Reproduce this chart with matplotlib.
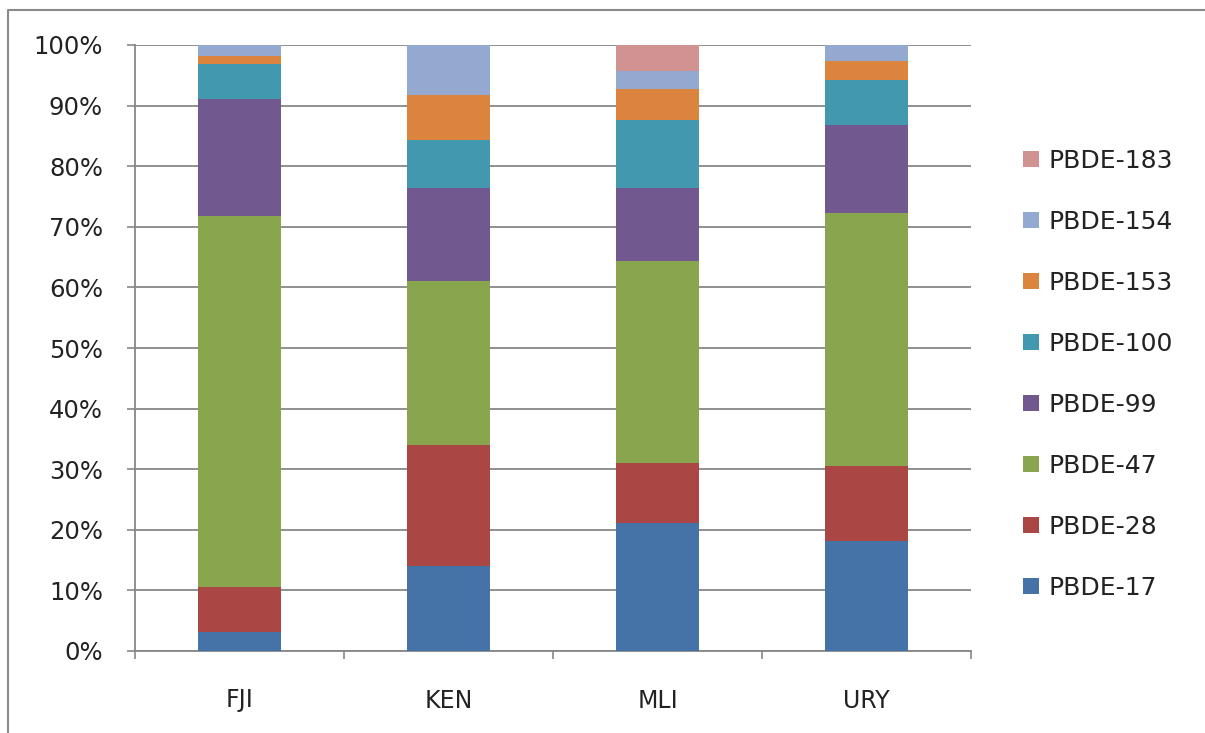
import matplotlib
matplotlib.use("Agg")
import matplotlib.pyplot as plt
from matplotlib.lines import Line2D
from matplotlib.patches import Patch
from matplotlib.ticker import FixedLocator, PercentFormatter
import numpy as np

# Share of each congener in the total (percent), per country
countries = ["FJI", "KEN", "MLI", "URY"]
congeners = ["PBDE-17", "PBDE-28", "PBDE-47", "PBDE-99",
             "PBDE-100", "PBDE-153", "PBDE-154", "PBDE-183"]
pbde_17 = [3.2, 14.1, 21.1, 18.2]
pbde_28 = [7.4, 19.9, 10.0, 12.4]
pbde_47 = [61.2, 27.05, 33.25, 41.6]
pbde_99 = [19.3, 15.3, 12.0, 14.6]
pbde_100 = [5.7, 7.95, 11.35, 7.4]
pbde_153 = [1.4, 7.4, 5.0, 3.2]
pbde_154 = [1.8, 8.3, 3.0, 2.6]
pbde_183 = [0.0, 0.0, 4.3, 0.0]

series = [pbde_17, pbde_28, pbde_47, pbde_99,
          pbde_100, pbde_153, pbde_154, pbde_183]
colors = ["#4572A7", "#AA4643", "#89A54E", "#71588F",
          "#4198AF", "#DB843D", "#93A9CF", "#D19392"]

W, H = 1205, 733
fig = plt.figure(figsize=(W / 100, H / 100), dpi=100)
fig.patch.set_facecolor("white")

ax = fig.add_axes([135 / W, (H - 651) / H, (971 - 135) / W, (651 - 45) / H])

x = np.arange(len(countries))
bottom = np.zeros(len(countries))
for vals, col in zip(series, colors):
    vals = np.array(vals, dtype=float)
    ax.bar(x, vals, width=0.4, bottom=bottom, color=col, linewidth=0, zorder=3)
    bottom += vals

ax.set_xlim(-0.5, len(countries) - 0.5)
ax.set_ylim(0, 100)

grid_col = "#878787"
text_col = "#222222"

# y axis
ax.yaxis.set_major_locator(FixedLocator(np.arange(0, 101, 10)))
ax.yaxis.set_major_formatter(PercentFormatter(decimals=0))
ax.yaxis.grid(True, color=grid_col, linewidth=1.3, zorder=0)
ax.set_axisbelow(True)
ax.tick_params(axis="y", direction="out", length=6, width=1.2, color=grid_col,
               labelsize=17.5, labelcolor=text_col, pad=17)

# x axis: labels at category centres, ticks at category boundaries
ax.set_xticks(x)
ax.set_xticklabels(countries)
ax.set_xticks(np.arange(-0.5, len(countries), 1.0), minor=True)
ax.tick_params(axis="x", which="major", length=0, labelsize=17,
               labelcolor=text_col, pad=27)
ax.tick_params(axis="x", which="minor", direction="out", length=6,
               width=1.2, color=grid_col)

for side in ("top", "right"):
    ax.spines[side].set_visible(False)
for side in ("left", "bottom"):
    ax.spines[side].set_color(grid_col)
    ax.spines[side].set_linewidth(1.3)

# legend, listed from top of the stack down
handles = [Patch(facecolor=c, edgecolor="none") for c in colors][::-1]
labels = congeners[::-1]
fig.legend(handles, labels, loc="upper left",
           bbox_to_anchor=(1023 / W, (H - 149) / H),
           frameon=False, fontsize=18, labelcolor=text_col,
           handlelength=0.64, handleheight=0.64, handletextpad=0.38,
           labelspacing=1.48, borderpad=0, borderaxespad=0)

# chart frame
fig.add_artist(Line2D([8 / W, 8 / W, 1.0], [0.0, (H - 10) / H, (H - 10) / H],
                      transform=fig.transFigure, color="#8a8a8a", linewidth=1.5))

fig.savefig("out.png", dpi=100, facecolor="white")
